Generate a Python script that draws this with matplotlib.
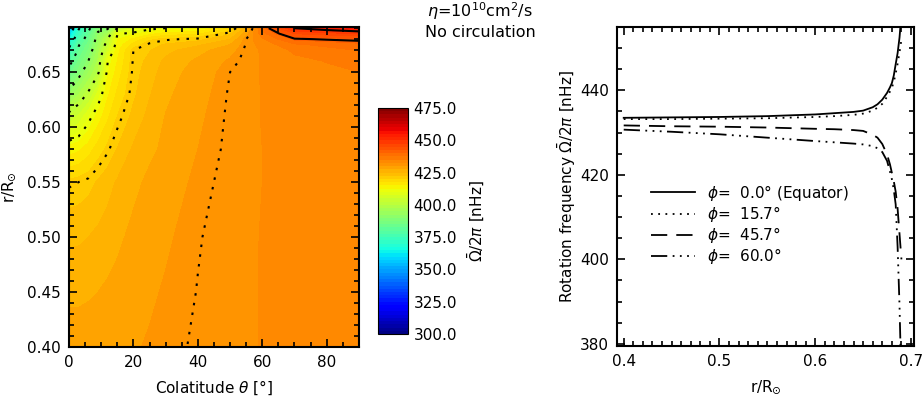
import numpy as np
import matplotlib
matplotlib.use("Agg")
import matplotlib.pyplot as plt
from matplotlib.ticker import MultipleLocator, FormatStrFormatter

plt.rcParams['font.family'] = ['DejaVu Sans']
plt.rcParams['font.size'] = 11
plt.rcParams['mathtext.fontset'] = 'dejavusans'

# ---- left panel: mean rotation rate on (colatitude, radius) grid [nHz]
theta_nodes = [0, 3, 6, 9, 12, 15, 20, 25, 30, 40, 50, 55, 60, 70, 80, 90]
r_nodes = [0.40, 0.45, 0.50, 0.55, 0.58, 0.61, 0.63, 0.65, 0.66, 0.67, 0.675, 0.68, 0.685, 0.69]
omega_grid = [
    [428.8, 428.8, 428.9, 429.0, 429.2, 429.4, 429.8, 430.2, 430.6, 431.2, 431.8, 432.2, 432.6, 433.1, 433.4, 433.5],
    [427.0, 427.0, 427.2, 427.5, 427.9, 428.3, 429.0, 429.7, 430.2, 431.05, 431.7, 432.2, 432.6, 433.1, 433.4, 433.6],
    [424.5, 424.6, 425.0, 425.6, 426.3, 427.0, 428.1, 429.0, 429.7, 430.9, 431.6, 432.1, 432.6, 433.2, 433.5, 433.7],
    [420.6, 421.0, 421.6, 422.8, 424.0, 425.3, 426.9, 428.0, 428.8, 430.5, 431.5, 432.0, 432.5, 433.3, 433.7, 433.9],
    [413.7, 414.5, 416.3, 418.7, 420.6, 422.6, 425.4, 427.0, 428.0, 430.0, 431.4, 431.9, 432.5, 433.3, 433.8, 434.1],
    [402.8, 405.4, 409.5, 413.5, 417.0, 420.0, 423.2, 425.8, 427.6, 429.6, 431.3, 431.8, 432.6, 433.4, 434.0, 434.3],
    [392.6, 397.3, 401.8, 408.4, 414.5, 418.0, 422.0, 424.8, 427.0, 429.2, 431.2, 431.7, 432.6, 433.5, 434.1, 434.5],
    [383.3, 388.7, 394.7, 400.0, 412.2, 416.0, 421.5, 423.8, 426.3, 428.6, 431.0, 431.6, 432.7, 433.8, 434.5, 435.0],
    [378.6, 385.3, 391.0, 398.0, 410.8, 415.0, 421.3, 423.2, 425.6, 428.0, 430.4, 431.5, 432.7, 434.3, 435.1, 435.9],
    [372.2, 382.0, 387.5, 396.0, 406.0, 414.0, 421.0, 422.3, 424.2, 426.6, 429.0, 431.4, 432.8, 435.5, 436.4, 437.6],
    [369.0, 380.5, 386.0, 394.5, 403.5, 413.2, 418.5, 421.5, 422.8, 424.5, 427.5, 431.2, 433.5, 437.0, 438.3, 439.4],
    [364.0, 377.0, 384.0, 393.5, 401.0, 412.3, 415.5, 419.5, 420.6, 421.5, 425.0, 431.0, 434.5, 440.6, 441.3, 441.7],
    [359.0, 374.0, 382.0, 392.0, 396.0, 410.5, 412.0, 414.0, 416.0, 417.0, 422.0, 429.0, 436.5, 445.0, 446.3, 447.5],
    [352.0, 370.0, 379.0, 389.0, 390.0, 401.0, 407.0, 410.0, 411.0, 412.0, 418.0, 426.0, 438.5, 451.0, 453.5, 456.0],
]
cbar_ticks = [300, 325, 350, 375, 400, 425, 450, 475]

# ---- right panel: radial profiles at four latitudes [nHz]
r_prof = [0.40, 0.45, 0.50, 0.55, 0.60, 0.62, 0.64, 0.65, 0.66, 0.665, 0.67,
          0.675, 0.678, 0.68, 0.682, 0.684, 0.686, 0.688, 0.69]
f_equator = [433.5, 433.6, 433.7, 433.9, 434.3, 434.6, 434.9, 435.2, 436.0, 436.7, 437.8,
             439.4, 440.7, 441.7, 443.5, 446.2, 448.8, 452.5, 458.0]
f_157 = [433.2, 433.2, 433.3, 433.4, 433.7, 433.9, 434.2, 434.5, 435.2, 435.9, 436.8,
         438.5, 439.7, 440.6, 442.0, 444.0, 446.3, 449.0, 452.0]
f_457 = [431.7, 431.5, 431.4, 431.2, 430.9, 430.8, 430.6, 430.4, 429.5, 428.8, 427.3,
         424.8, 422.5, 420.5, 418.5, 416.0, 412.0, 406.0, 400.0]
f_600 = [430.7, 430.2, 429.6, 428.8, 428.0, 427.7, 427.4, 427.2, 426.8, 426.3, 425.4,
         423.3, 420.8, 419.0, 416.5, 413.0, 403.0, 389.0, 370.0]
labels = [r"$\phi$=  0.0° (Equator)", r"$\phi$=  15.7°", r"$\phi$=  45.7°", r"$\phi$=  60.0°"]

fig = plt.figure(figsize=(9.22, 3.96), dpi=100)
ax1 = fig.add_axes([0.0748, 0.1237, 0.3145, 0.808])
cax = fig.add_axes([0.41, 0.1566, 0.0325, 0.5707])
ax2 = fig.add_axes([0.6692, 0.1263, 0.322, 0.8056])

TH, RR = np.meshgrid(theta_nodes, r_nodes)
Z = np.array(omega_grid)
cf = ax1.contourf(TH, RR, Z, levels=np.arange(300, 475.01, 2.5), cmap='jet', vmin=300, vmax=475)
line_levels = np.arange(351, 452, 10)
ls = [(0, (1.2, 3.5)) if l < 436 else 'solid' for l in line_levels]
ax1.contour(TH, RR, Z, levels=line_levels, colors='k', linewidths=1.5, linestyles=ls)
ax1.set_xlim(0, 90)
ax1.set_ylim(0.40, 0.691)
ax1.xaxis.set_major_locator(MultipleLocator(20))
ax1.xaxis.set_minor_locator(MultipleLocator(5))
ax1.yaxis.set_major_locator(MultipleLocator(0.05))
ax1.yaxis.set_minor_locator(MultipleLocator(0.01))
ax1.yaxis.set_major_formatter(FormatStrFormatter('%.2f'))
ax1.set_xlabel(r"Colatitude $\theta$ [°]", labelpad=6)
ax1.set_ylabel(r"r/R$_{\odot}$", labelpad=6)

cb = fig.colorbar(cf, cax=cax, ticks=cbar_ticks)
cb.ax.yaxis.set_major_formatter(FormatStrFormatter('%.1f'))
cb.ax.tick_params(length=0, pad=4)
cb.set_label(r"$\bar{\Omega}/2\pi$ [nHz]", labelpad=6)
cb.outline.set_linewidth(0.8)

fig.text(0.463, 0.972, r"$\eta$=10$^{10}$cm$^{2}$/s", ha='left', va='center', fontsize=11.5)
fig.text(0.461, 0.918, "No circulation", ha='left', va='center', fontsize=11.5)

ax2.plot(r_prof, f_equator, color='k', lw=1.3, ls='-', label=labels[0])
ax2.plot(r_prof, f_157, color='k', lw=1.3, ls=(0, (1, 3)), label=labels[1])
ax2.plot(r_prof, f_457, color='k', lw=1.3, ls=(0, (9, 5)), label=labels[2])
ax2.plot(r_prof, f_600, color='k', lw=1.3, ls=(0, (9, 3, 1, 3, 1, 3, 1, 3)), label=labels[3])
ax2.set_xlim(0.393, 0.703)
ax2.set_ylim(379.5, 455)
ax2.xaxis.set_major_locator(MultipleLocator(0.1))
ax2.xaxis.set_minor_locator(MultipleLocator(0.01))
ax2.xaxis.set_major_formatter(FormatStrFormatter('%.1f'))
ax2.yaxis.set_major_locator(MultipleLocator(20))
ax2.yaxis.set_minor_locator(MultipleLocator(5))
ax2.set_xlabel(r"r/R$_{\odot}$", labelpad=6)
ax2.set_ylabel(r"Rotation frequency $\bar{\Omega}/2\pi$ [nHz]", labelpad=1)
ax2.legend(loc='upper left', bbox_to_anchor=(0.068, 0.555), frameon=False,
           handlelength=2.9, handletextpad=0.8, labelspacing=0.08, borderpad=0.4)

for ax in (ax1, ax2):
    ax.tick_params(which='both', direction='in', top=True, right=True, width=1.2)
    ax.tick_params(which='major', length=6, pad=6)
    ax.tick_params(which='minor', length=3.5)
    for sp in ax.spines.values():
        sp.set_linewidth(1.5)

fig.savefig("out.png", dpi=100)
